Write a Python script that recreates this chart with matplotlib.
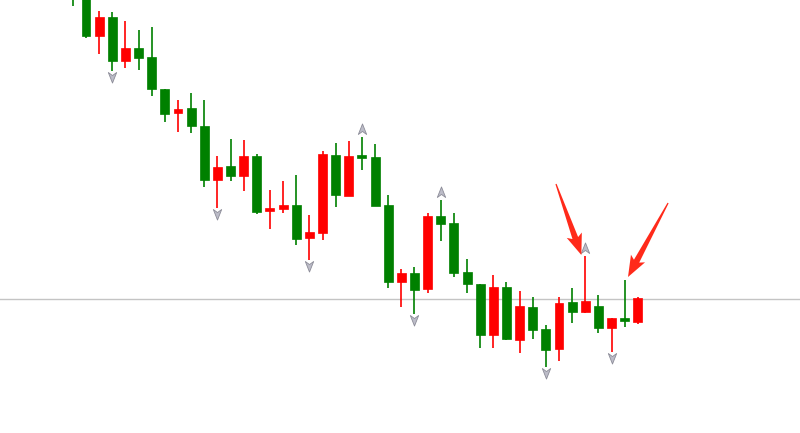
import matplotlib
matplotlib.use("Agg")
import matplotlib.pyplot as plt
import numpy as np
from matplotlib.path import Path
from matplotlib.patches import Polygon
from matplotlib.transforms import IdentityTransform

# candle data (price units), index 0 is the partly hidden candle at the left edge
opens = [445, 445, 397, 416, 372, 385, 376, 344, 320, 325, 307, 253, 267, 257,
         277, 222, 224, 228, 195, 200, 278, 237, 278, 276, 228, 151, 160, 144,
         217, 210, 161, 149, 98, 146, 93, 126, 104, 84, 131, 121, 127, 105, 115, 111]
closes = [436, 397, 416, 372, 385, 375, 344, 319, 324, 307, 253, 266, 257, 277,
          221, 225, 228, 194, 201, 279, 238, 277, 275, 227, 151, 160, 143, 217,
          209, 160, 149, 98, 146, 94, 127, 103, 83, 130, 121, 132, 105, 115, 112, 135]
highs = [450, 448, 422, 421, 412, 403, 406, 344, 333, 340, 333, 277, 294, 293,
         279, 243, 252, 258, 218, 282, 290, 292, 296, 289, 238, 164, 166, 220,
         233, 220, 174, 149, 158, 151, 142, 136, 108, 136, 145, 177, 138, 115, 153, 136]
lows = [427, 395, 379, 362, 365, 363, 337, 311, 301, 300, 246, 225, 252, 242,
        219, 204, 220, 188, 173, 193, 226, 237, 263, 227, 145, 126, 119, 140,
        192, 156, 140, 85, 85, 93, 80, 94, 66, 72, 110, 120, 100, 81, 106, 109]

# fractal markers
up_fractals = [22, 28, 39]
down_fractals = [3, 11, 18, 26, 36, 41]
level = 134.5

x = np.arange(len(opens))
o = np.array(opens, dtype=float)
c = np.array(closes, dtype=float)
h = np.array(highs, dtype=float)
l = np.array(lows, dtype=float)

green = "#008000"
red = "#ff0000"
cols = [green if cc < oo else red for oo, cc in zip(o, c)]

fig = plt.figure(figsize=(8, 4.33), dpi=100)
ax = fig.add_axes([0, 0, 1, 1])
ax.set_xlim(-5.545, 55.34)
ax.set_ylim(0, 433)
ax.axis("off")

ax.axhline(level, color="#c4c4c4", lw=1.0, zorder=1)

ax.vlines(x, l, h, colors=cols, lw=1.2, zorder=2)
bottoms = np.minimum(o, c)
heights = np.maximum(np.abs(c - o), 1.5)
ax.bar(x, heights, bottom=bottoms, width=0.68, color=cols,
       edgecolor=cols, linewidth=0.5, zorder=3)

# fractal arrow markers (arrowhead with a notch)
up_path = Path([(0, 1), (-0.75, -0.9), (0, -0.35), (0.75, -0.9), (0, 1)],
               [Path.MOVETO, Path.LINETO, Path.LINETO, Path.LINETO, Path.CLOSEPOLY])
down_path = Path([(0, -1), (-0.75, 0.9), (0, 0.35), (0.75, 0.9), (0, -1)],
                 [Path.MOVETO, Path.LINETO, Path.LINETO, Path.LINETO, Path.CLOSEPOLY])
ax.plot(x[up_fractals], h[up_fractals] + 8, ls="none", marker=up_path,
        ms=8, mfc="#bcbcc8", mec="#8c8c98", mew=0.6, zorder=4)
ax.plot(x[down_fractals], l[down_fractals] - 6, ls="none", marker=down_path,
        ms=8, mfc="#bcbcc8", mec="#8c8c98", mew=0.6, zorder=4)


def pointer(tail, tip, shaft=6.0, head_w=16.0, head_len=18.0):
    # tapered red arrow, built in pixel space so it keeps its shape
    t = ax.transData.transform(tail)
    p = ax.transData.transform(tip)
    d = (p - t) / np.linalg.norm(p - t)
    n = np.array([-d[1], d[0]])
    base = p - d * head_len
    pts = [t + n * 0.6, base + n * shaft / 2, base - d * 3 + n * head_w / 2, p,
           base - d * 3 - n * head_w / 2, base - n * shaft / 2, t - n * 0.6]
    ax.add_patch(Polygon(pts, closed=True, transform=IdentityTransform(),
                         facecolor="#ff2a1a", edgecolor="none", zorder=5))


pointer((36.77, h[39] + 72), (38.7, h[39] + 1))
pointer((45.3, h[42] + 77), (42.25, h[42] + 3))

fig.savefig("out.png", dpi=100, facecolor="white")
